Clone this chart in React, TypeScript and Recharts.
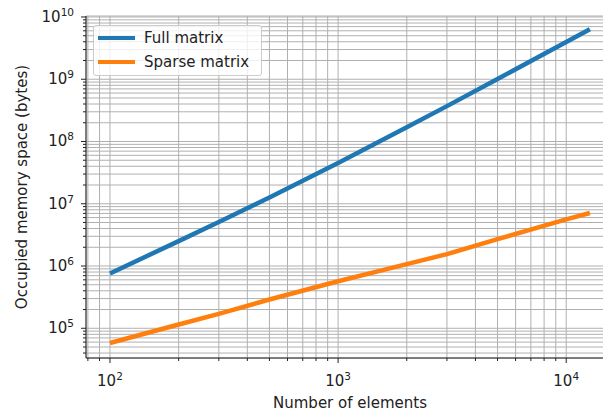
import { LineChart, Line, XAxis, YAxis, CartesianGrid, Legend } from "recharts";

// number of elements (x) and occupied memory in bytes
const ELEMENTS = [100, 200, 300, 500, 1000, 2000, 3000, 5000, 10000, 12700];
const FULL = [7.6e5, 2.51e6, 5.1e6, 1.26e7, 4.5e7, 1.69e8, 3.7e8, 1.01e9, 3.95e9, 6.35e9];
const SPARSE = [5.8e4, 1.15e5, 1.7e5, 2.9e5, 5.7e5, 1.07e6, 1.55e6, 2.7e6, 5.6e6, 7.1e6];

const X_DECADES = [100, 1000, 10000];
const Y_DECADES = [1e4, 1e5, 1e6, 1e7, 1e8, 1e9, 1e10];
const X_DOMAIN: [number, number] = [78.5, 16200];
const Y_DOMAIN: [number, number] = [3.33e4, 1.037e10];

const BLUE = "#1f77b4";
const ORANGE = "#ff7f0e";
const FONT = "DejaVu Sans";

// decades plus the 2..9 minor ticks, clipped to the domain
function logTicks(decades: number[], [lo, hi]: [number, number]) {
  const out: number[] = [];
  for (const d of [decades[0] / 10, ...decades]) {
    for (let k = 1; k < 10; k++) {
      const v = d * k;
      if (v >= lo && v <= hi) out.push(v);
    }
  }
  return out;
}

const exp10 = (v: number) => {
  const e = Math.log10(v);
  return Math.abs(e - Math.round(e)) < 1e-9 ? Math.round(e) : null;
};

const data = ELEMENTS.map((n, i) => ({ n, full: FULL[i], sparse: SPARSE[i] }));

function XTick({ x, y, payload }: any) {
  const e = exp10(payload.value);
  return (
    <g>
      <line x1={x} x2={x} y1={y} y2={y + (e !== null ? 5 : 3)} stroke="#222" strokeWidth={1} />
      {e !== null && (
        <text x={x} y={y + 28} textAnchor="middle" fontSize={15} fontFamily={FONT} fill="#222">
          10<tspan dy={-6} fontSize={10.5}>{e}</tspan>
        </text>
      )}
    </g>
  );
}

function YTick({ x, y, payload }: any) {
  const e = exp10(payload.value);
  return (
    <g>
      <line x1={x - (e !== null ? 5 : 3)} x2={x} y1={y} y2={y} stroke="#222" strokeWidth={1} />
      {e !== null && (
        <text x={x - 12} y={y + 5} textAnchor="end" fontSize={15} fontFamily={FONT} fill="#222">
          10<tspan dy={-6} fontSize={10.5}>{e}</tspan>
        </text>
      )}
    </g>
  );
}

function LegendBox() {
  const rows = [
    { label: "Full matrix", color: BLUE },
    { label: "Sparse matrix", color: ORANGE },
  ];
  return (
    <div
      style={{
        width: 167,
        height: 49,
        border: "1px solid #cccccc",
        borderRadius: 3,
        background: "rgba(255,255,255,0.8)",
        fontFamily: FONT,
        fontSize: 15,
        color: "#222",
        boxSizing: "content-box",
      }}
    >
      {rows.map((r, i) => (
        <div key={r.label} style={{ position: "absolute", left: 5, top: 3 + i * 24, height: 20, display: "flex", alignItems: "center" }}>
          <span style={{ display: "inline-block", width: 37, height: 4, background: r.color, marginRight: 9 }} />
          <span>{r.label}</span>
        </div>
      ))}
    </div>
  );
}

export default function App() {
  // pinned to the page corner; the right spine falls just outside the frame, as in the source image
  return (
    <div style={{ position: "absolute", top: 0, left: 0, width: 603, height: 414, overflow: "hidden" }}>
      <LineChart width={648} height={414} data={data} margin={{ top: 16, right: 34, bottom: 0, left: 8 }}>
        <CartesianGrid stroke="#b0b0b0" strokeWidth={1} />
        <XAxis
          dataKey="n"
          type="number"
          scale="log"
          domain={X_DOMAIN}
          allowDataOverflow
          ticks={logTicks(X_DECADES, X_DOMAIN)}
          interval={0}
          height={56}
          tickSize={0}
          tickMargin={0}
          tickLine={false}
          tick={<XTick />}
          axisLine={{ stroke: "#222" }}
          label={{ value: "Number of elements", position: "insideBottom", offset: 6, fontSize: 15, fontFamily: FONT, fill: "#222" }}
        />
        <XAxis xAxisId="top" orientation="top" dataKey="n" type="number" scale="log" domain={X_DOMAIN} allowDataOverflow height={0} tick={false} tickLine={false} axisLine={{ stroke: "#222" }} />
        <YAxis
          type="number"
          scale="log"
          domain={Y_DOMAIN}
          allowDataOverflow
          ticks={logTicks(Y_DECADES, Y_DOMAIN)}
          interval={0}
          width={78}
          tickSize={0}
          tickMargin={0}
          tickLine={false}
          tick={<YTick />}
          axisLine={{ stroke: "#222" }}
          label={{ value: "Occupied memory space (bytes)", angle: -90, position: "insideLeft", offset: 14, style: { textAnchor: "middle" }, fontSize: 15, fontFamily: FONT, fill: "#222" }}
        />
        <Line dataKey="full" name="Full matrix" stroke={BLUE} strokeWidth={4.5} dot={false} isAnimationActive={false} />
        <Line dataKey="sparse" name="Sparse matrix" stroke={ORANGE} strokeWidth={4.5} dot={false} isAnimationActive={false} />
        <Legend
          layout="horizontal"
          verticalAlign="middle"
          align="center"
          content={() => <LegendBox />}
          wrapperStyle={{ top: 25, left: 93, width: "auto", position: "absolute" }}
        />
      </LineChart>
    </div>
  );
}
